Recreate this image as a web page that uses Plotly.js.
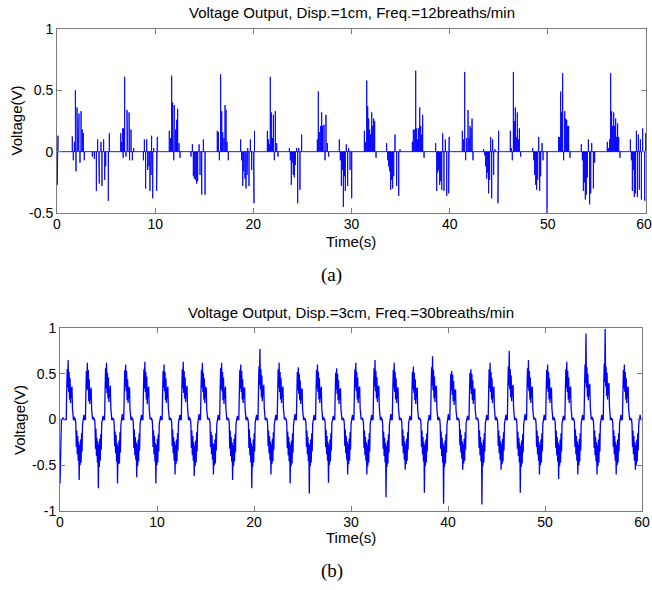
<!DOCTYPE html>
<html><head><meta charset="utf-8">
<script src="https://cdn.plot.ly/plotly-3.0.1.min.js"></script>
<style>html,body{margin:0;padding:0;background:#fff}#chart{width:652px;height:590px}</style>
</head><body><div id="chart"></div>
<script>
const titleA = "Voltage Output, Disp.=1cm, Freq.=12breaths/min";
const titleB = "Voltage Output, Disp.=3cm, Freq.=30breaths/min";
const xLabel = "Time(s)";
const yLabel = "Voltage(V)";
const panelA = "(a)";
const panelB = "(b)";
const xTickVals = [0,10,20,30,40,50,60];
const xTickTextA = ["0","10","20","30","40","50","60\u00a0"];
const xTickTextB = ["0","10","20","30","40","50","60"];
const yTickValsA = [-0.5,0,0.5,1];
const yTickTextA = ["-0.5","0","0.5","1"];
const yTickValsB = [-1,-0.5,0,0.5,1];
const yTickTextB = ["-1","-0.5","0","0.5","1"];

// (a) spike samples: time (s) and voltage (V)
const spikeTimeA = [
0,0.03,0.10,
1.56,1.66,1.77,1.87,1.94,2.04,2.11,2.17,2.24,2.34,2.45,2.58,2.68,2.78,
3.60,3.80,4.01,4.14,4.25,4.31,4.48,4.58,4.75,4.86,4.96,5.23,5.33,
6.49,6.59,6.69,6.74,6.79,6.89,7.03,7.13,7.20,7.34,7.40,7.54,7.68,7.81,
8.80,8.90,9.03,9.14,9.24,9.37,9.47,9.58,9.64,9.75,9.85,10.15,10.22,
11.44,11.58,11.68,11.78,11.89,11.95,12.09,12.19,12.29,12.43,12.53,
13.65,13.79,13.89,13.99,14.13,14.23,14.33,14.47,14.57,14.74,14.91,15.08,
16.33,16.44,16.54,16.67,16.78,16.88,17.01,17.12,17.22,17.32,17.45,
18.71,18.81,18.92,19.02,19.15,19.25,19.36,19.43,19.56,19.70,19.83,20.00,20.07,20.12,
21.43,21.53,21.63,21.73,21.83,21.94,22.04,22.14,22.24,22.38,22.51,
23.67,23.77,23.87,23.97,24.07,24.18,24.28,24.41,24.52,24.62,24.75,24.92,
26.52,26.62,26.72,26.86,26.96,27.06,27.20,27.30,27.40,27.54,27.67,
28.76,28.86,28.97,29.07,29.17,29.27,29.37,29.47,29.61,29.71,29.85,30.02,
31.31,31.44,31.55,31.65,31.75,31.85,31.95,32.06,32.16,32.26,32.36,32.50,
33.58,33.69,33.79,33.89,33.99,34.09,34.19,34.30,34.43,34.60,34.81,34.94,
36.20,36.30,36.44,36.54,36.64,36.74,36.84,36.95,37.05,37.15,37.25,37.39,
38.57,38.68,38.78,38.88,38.98,39.08,39.19,39.29,39.42,39.56,39.70,39.90,39.95,
41.29,41.43,41.53,41.63,41.73,41.87,41.97,42.07,42.17,42.28,42.38,
43.46,43.57,43.67,43.77,43.87,43.97,44.07,44.18,44.28,44.38,44.48,44.62,44.92,44.99,
46.18,46.28,46.38,46.49,46.59,46.69,46.79,46.89,47.00,47.10,47.23,
48.46,48.56,48.66,48.76,48.86,48.97,49.07,49.17,49.27,49.41,49.51,49.92,
51.10,51.21,51.31,51.41,51.51,51.61,51.72,51.82,51.92,52.02,52.12,52.26,
53.41,53.52,53.62,53.72,53.82,53.92,54.03,54.13,54.26,54.37,54.47,54.64,54.77,
56.06,56.16,56.30,56.40,56.50,56.61,56.71,56.81,56.91,57.01,57.11,57.22,57.35,
58.41,58.51,58.61,58.71,58.81,58.92,59.02,59.12,59.22,59.32,59.43,59.53,59.66,59.87,59.96,
60
];
const spikeVoltA = [
0,-0.27,0.13,
0.125,-0.07,0.08,0.50,-0.16,0.36,0.20,0.27,0.31,-0.09,0.33,0.18,0.15,-0.07,
-0.04,-0.06,-0.32,0.10,-0.17,-0.26,0.08,-0.28,0.10,-0.23,-0.12,-0.40,0.15,
0.15,0.08,0.19,-0.05,0.19,0.61,-0.04,0.34,0.19,0.32,-0.07,0.18,-0.07,0.03,
-0.07,0.10,-0.30,0.10,-0.15,-0.12,-0.32,-0.19,0.13,-0.38,0.03,-0.32,0.12,
0.17,0.11,0.62,0.40,-0.07,0.38,0.18,0.26,0.35,0.07,-0.05,
-0.04,0.06,-0.20,-0.22,-0.23,-0.26,-0.24,0.06,-0.19,-0.35,0.10,-0.35,
0.17,0.16,-0.07,0.63,0.33,0.16,0.11,0.38,0.34,0.08,-0.07,
0.10,-0.07,-0.28,-0.16,-0.22,-0.30,-0.19,0.03,-0.28,0.10,-0.15,-0.35,-0.42,0.17,
0.17,0.10,0.06,0.61,0.32,0.11,0.30,-0.07,0.33,0.07,-0.04,
0.03,-0.07,-0.27,-0.09,-0.19,-0.21,-0.11,0.03,-0.42,0.03,-0.31,0.14,
0.10,0.49,0.16,0.21,0.32,0.21,0.22,-0.07,0.30,0.07,-0.04,
0.10,-0.07,-0.28,-0.15,-0.45,-0.20,-0.32,0.06,-0.28,0.03,-0.15,-0.38,
0.17,0.08,0.58,0.37,0.27,0.18,0.14,0.32,0.21,0.27,0.25,-0.05,
0.07,-0.07,-0.12,-0.16,-0.31,-0.23,-0.30,-0.20,0.14,-0.28,-0.36,0.02,
0.08,0.18,0.18,0.66,0.19,0.10,0.19,0.36,0.21,0.14,0.30,-0.05,
0.07,-0.32,-0.17,-0.15,-0.27,-0.24,-0.31,0.15,-0.32,0.10,-0.36,-0.34,0.12,
0.17,0.10,0.65,-0.07,0.11,0.34,0.11,0.21,0.19,0.27,-0.07,
0.02,-0.03,-0.12,-0.22,-0.17,-0.34,-0.23,0.12,-0.38,0.10,-0.19,0.02,-0.42,0.17,
0.17,0.03,-0.07,0.65,0.25,0.36,0.12,0.32,0.10,0.19,-0.04,
0.03,-0.07,-0.19,-0.27,-0.31,-0.23,0.12,-0.32,-0.20,0.07,-0.07,-0.52,
0.12,0.12,0.49,0.32,0.64,-0.07,0.33,0.27,0.26,0.21,0.21,-0.05,
0.06,-0.07,-0.32,-0.25,-0.39,-0.35,-0.21,0.10,-0.43,-0.34,0.07,-0.30,-0.09,
0.08,0.03,0.10,0.64,0.33,0.21,0.32,0.21,0.27,0.12,0.23,0.12,-0.05,
0.10,-0.07,-0.32,-0.15,-0.37,-0.34,0.17,-0.37,0.14,-0.31,0.10,-0.39,0.19,-0.40,0.15,
0
];

// (b) uniformly sampled signal, starting at t = 0 s (one row per breath)
const sampleStepB = 0.04943;
const voltageB = [
-0.70,-0.40,-0.15,0.00,0.00,0.00,0.02,0.00,0.00,0.00,0.00,0.00,0.00,0.00,
0.30,0.55,0.35,0.65,0.30,0.52,0.22,0.45,0.18,0.35,0.24,0.36,0.12,0.03,0.00,0.00,0.03,0.00,0.00,-0.05,-0.30,-0.12,-0.38,-0.18,-0.45,-0.25,-0.66,-0.28,-0.50,-0.22,-0.47,-0.15,-0.35,-0.05,0.00,0.00,0.05,0.00,0.00,0.00,
0.28,0.53,0.33,0.62,0.32,0.54,0.20,0.44,0.17,0.33,0.22,0.35,0.11,0.02,0.00,0.01,0.03,0.00,0.00,-0.04,-0.32,-0.10,-0.40,-0.20,-0.47,-0.24,-0.75,-0.27,-0.52,-0.21,-0.45,-0.16,-0.33,-0.04,0.00,0.00,0.04,0.00,0.00,0.00,
0.31,0.56,0.34,0.62,0.29,0.51,0.23,0.46,0.19,0.34,0.25,0.37,0.13,0.03,0.00,0.00,0.02,0.00,0.01,-0.06,-0.29,-0.13,-0.37,-0.17,-0.46,-0.26,-0.70,-0.29,-0.49,-0.23,-0.48,-0.14,-0.36,-0.06,0.00,0.00,0.06,0.00,0.00,0.00,
0.29,0.54,0.36,0.60,0.31,0.53,0.21,0.44,0.18,0.36,0.23,0.35,0.11,0.02,0.00,0.00,0.03,0.00,0.00,-0.05,-0.31,-0.11,-0.39,-0.19,-0.44,-0.25,-0.63,-0.27,-0.51,-0.22,-0.46,-0.15,-0.34,-0.05,0.00,0.00,0.05,0.00,0.00,0.00,
0.30,0.55,0.34,0.63,0.30,0.52,0.22,0.47,0.17,0.35,0.24,0.36,0.12,0.02,0.00,0.01,0.02,0.00,0.00,-0.05,-0.30,-0.12,-0.38,-0.18,-0.46,-0.26,-0.70,-0.28,-0.50,-0.21,-0.47,-0.16,-0.35,-0.05,0.00,0.00,0.04,0.00,0.00,0.00,
0.28,0.53,0.35,0.60,0.31,0.52,0.21,0.45,0.18,0.34,0.23,0.36,0.12,0.02,0.00,0.00,0.02,0.00,0.00,-0.04,-0.29,-0.11,-0.37,-0.19,-0.45,-0.24,-0.60,-0.28,-0.49,-0.22,-0.46,-0.15,-0.34,-0.04,0.00,0.00,0.05,0.00,0.00,0.00,
0.31,0.55,0.34,0.63,0.29,0.53,0.23,0.46,0.19,0.35,0.25,0.37,0.13,0.03,0.00,0.00,0.03,0.00,0.00,-0.06,-0.31,-0.12,-0.39,-0.18,-0.45,-0.25,-0.62,-0.29,-0.51,-0.23,-0.47,-0.14,-0.35,-0.06,0.00,0.00,0.06,0.00,0.00,0.00,
0.29,0.54,0.35,0.62,0.30,0.51,0.22,0.45,0.18,0.36,0.24,0.35,0.11,0.02,0.00,0.01,0.02,0.00,0.00,-0.05,-0.30,-0.13,-0.38,-0.17,-0.44,-0.26,-0.60,-0.27,-0.50,-0.22,-0.48,-0.15,-0.34,-0.05,0.00,0.00,0.05,0.00,0.00,0.00,
0.30,0.56,0.33,0.62,0.31,0.52,0.21,0.46,0.17,0.34,0.23,0.36,0.12,0.02,0.00,0.00,0.02,0.00,0.00,-0.05,-0.32,-0.12,-0.40,-0.19,-0.46,-0.25,-0.66,-0.28,-0.51,-0.21,-0.46,-0.16,-0.36,-0.05,0.00,0.00,0.04,0.00,0.00,0.00,
0.28,0.54,0.34,0.60,0.30,0.53,0.22,0.44,0.18,0.35,0.24,0.35,0.12,0.02,0.00,0.00,0.03,0.00,0.00,-0.04,-0.31,-0.11,-0.39,-0.20,-0.47,-0.26,-0.75,-0.29,-0.52,-0.22,-0.47,-0.15,-0.35,-0.04,0.00,0.00,0.05,0.00,0.00,0.00,
0.33,0.58,0.38,0.77,0.33,0.55,0.24,0.48,0.20,0.37,0.26,0.38,0.13,0.03,0.00,0.00,0.02,0.00,0.00,-0.05,-0.29,-0.12,-0.37,-0.18,-0.44,-0.24,-0.60,-0.27,-0.49,-0.21,-0.46,-0.14,-0.33,-0.05,0.00,0.00,0.05,0.00,0.00,0.00,
0.29,0.55,0.35,0.62,0.30,0.52,0.22,0.45,0.18,0.35,0.24,0.36,0.12,0.02,0.00,0.01,0.02,0.00,0.00,-0.06,-0.31,-0.13,-0.39,-0.19,-0.46,-0.25,-0.70,-0.28,-0.51,-0.23,-0.48,-0.15,-0.36,-0.06,0.00,0.00,0.06,0.00,0.00,0.00,
0.27,0.52,0.32,0.57,0.28,0.50,0.21,0.43,0.17,0.33,0.22,0.34,0.11,0.02,0.00,0.00,0.02,0.00,0.00,-0.05,-0.30,-0.12,-0.38,-0.19,-0.46,-0.26,-0.81,-0.28,-0.51,-0.22,-0.47,-0.15,-0.35,-0.05,0.00,0.00,0.05,0.00,0.00,0.00,
0.29,0.54,0.34,0.60,0.30,0.52,0.22,0.45,0.18,0.34,0.23,0.36,0.12,0.02,0.00,0.00,0.03,0.00,0.00,-0.04,-0.30,-0.11,-0.38,-0.18,-0.45,-0.25,-0.69,-0.28,-0.50,-0.22,-0.46,-0.15,-0.34,-0.04,0.00,0.00,0.04,0.00,0.00,0.00,
0.27,0.51,0.33,0.56,0.28,0.50,0.21,0.43,0.17,0.33,0.22,0.34,0.11,0.02,0.00,0.00,0.02,0.00,0.00,-0.05,-0.29,-0.11,-0.37,-0.18,-0.44,-0.24,-0.60,-0.27,-0.49,-0.21,-0.45,-0.14,-0.33,-0.05,0.00,0.00,0.05,0.00,0.00,0.00,
0.30,0.55,0.35,0.62,0.31,0.52,0.22,0.46,0.18,0.35,0.24,0.36,0.12,0.02,0.00,0.01,0.02,0.00,0.00,-0.05,-0.31,-0.12,-0.39,-0.19,-0.45,-0.25,-0.60,-0.28,-0.51,-0.22,-0.47,-0.15,-0.35,-0.05,0.00,0.00,0.05,0.00,0.00,0.00,
0.31,0.56,0.36,0.65,0.31,0.53,0.23,0.46,0.19,0.36,0.25,0.37,0.13,0.03,0.00,0.00,0.03,0.00,0.00,-0.06,-0.32,-0.13,-0.40,-0.20,-0.47,-0.26,-0.85,-0.29,-0.52,-0.23,-0.48,-0.16,-0.36,-0.06,0.00,0.00,0.06,0.00,0.00,0.00,
0.29,0.54,0.34,0.62,0.30,0.52,0.22,0.45,0.18,0.35,0.23,0.35,0.12,0.02,0.00,0.00,0.02,0.00,0.00,-0.04,-0.29,-0.11,-0.37,-0.18,-0.44,-0.24,-0.55,-0.27,-0.49,-0.21,-0.45,-0.14,-0.33,-0.04,0.00,0.00,0.04,0.00,0.00,0.00,
0.28,0.52,0.33,0.58,0.29,0.51,0.21,0.44,0.17,0.34,0.23,0.35,0.11,0.02,0.00,0.01,0.02,0.00,0.00,-0.05,-0.30,-0.12,-0.38,-0.19,-0.46,-0.25,-0.80,-0.28,-0.51,-0.22,-0.47,-0.15,-0.35,-0.05,0.00,0.00,0.05,0.00,0.00,0.00,
0.32,0.57,0.37,0.69,0.32,0.54,0.23,0.47,0.19,0.36,0.25,0.37,0.13,0.03,0.00,0.00,0.03,0.00,0.00,-0.06,-0.32,-0.13,-0.40,-0.20,-0.47,-0.26,-0.92,-0.29,-0.52,-0.23,-0.48,-0.16,-0.36,-0.06,0.00,0.00,0.06,0.00,0.00,0.00,
0.26,0.50,0.32,0.53,0.27,0.49,0.20,0.42,0.16,0.32,0.21,0.33,0.10,0.02,0.00,0.00,0.02,0.00,0.00,-0.04,-0.28,-0.11,-0.36,-0.17,-0.43,-0.24,-0.55,-0.27,-0.48,-0.21,-0.45,-0.14,-0.33,-0.04,0.00,0.00,0.04,0.00,0.00,0.00,
0.27,0.51,0.33,0.55,0.28,0.50,0.21,0.43,0.17,0.33,0.22,0.34,0.11,0.02,0.00,0.01,0.02,0.00,0.00,-0.05,-0.31,-0.12,-0.39,-0.19,-0.46,-0.25,-0.93,-0.28,-0.51,-0.22,-0.47,-0.15,-0.35,-0.05,0.00,0.00,0.05,0.00,0.00,0.00,
0.30,0.55,0.34,0.62,0.30,0.52,0.22,0.45,0.18,0.35,0.24,0.36,0.12,0.02,0.00,0.00,0.03,0.00,0.00,-0.05,-0.29,-0.12,-0.37,-0.18,-0.44,-0.24,-0.55,-0.27,-0.49,-0.21,-0.46,-0.14,-0.34,-0.05,0.00,0.00,0.05,0.00,0.00,0.00,
0.33,0.58,0.37,0.75,0.33,0.55,0.24,0.48,0.20,0.37,0.26,0.38,0.13,0.03,0.00,0.00,0.02,0.00,0.00,-0.06,-0.32,-0.13,-0.40,-0.20,-0.47,-0.26,-0.80,-0.29,-0.52,-0.23,-0.48,-0.16,-0.36,-0.06,0.00,0.00,0.06,0.00,0.00,0.00,
0.31,0.56,0.35,0.65,0.31,0.53,0.22,0.46,0.18,0.35,0.24,0.36,0.12,0.02,0.00,0.01,0.02,0.00,0.00,-0.05,-0.30,-0.12,-0.38,-0.18,-0.45,-0.25,-0.60,-0.28,-0.50,-0.22,-0.47,-0.15,-0.35,-0.05,0.00,0.00,0.05,0.00,0.00,0.00,
0.29,0.54,0.34,0.60,0.30,0.52,0.22,0.45,0.18,0.34,0.23,0.35,0.12,0.02,0.00,0.00,0.03,0.00,0.00,-0.05,-0.31,-0.12,-0.39,-0.19,-0.46,-0.25,-0.65,-0.28,-0.51,-0.22,-0.47,-0.15,-0.35,-0.05,0.00,0.00,0.04,0.00,0.00,0.00,
0.30,0.55,0.35,0.63,0.30,0.53,0.22,0.46,0.18,0.35,0.24,0.36,0.12,0.02,0.00,0.00,0.02,0.00,0.00,-0.04,-0.30,-0.11,-0.38,-0.18,-0.45,-0.24,-0.60,-0.27,-0.50,-0.21,-0.46,-0.15,-0.34,-0.04,0.00,0.00,0.05,0.00,0.00,0.00,
0.34,0.60,0.40,0.94,0.35,0.57,0.25,0.50,0.21,0.38,0.27,0.39,0.14,0.03,0.00,0.01,0.03,0.00,0.00,-0.05,-0.31,-0.12,-0.39,-0.19,-0.46,-0.25,-0.60,-0.28,-0.51,-0.22,-0.47,-0.15,-0.35,-0.05,0.00,0.00,0.05,0.00,0.00,0.00,
0.35,0.61,0.41,0.99,0.36,0.58,0.26,0.51,0.22,0.39,0.27,0.40,0.14,0.03,0.00,0.00,0.02,0.00,0.00,-0.05,-0.30,-0.12,-0.38,-0.18,-0.45,-0.25,-0.60,-0.28,-0.50,-0.22,-0.47,-0.15,-0.35,-0.05,0.00,0.00,0.05,0.00,0.00,0.00,
0.29,0.54,0.34,0.60,0.30,0.52,0.22,0.45,0.18,0.35,0.24,0.36,0.12,0.02,0.00,0.00,0.02,0.00,0.00,-0.05,-0.30,-0.12,-0.38,-0.18,-0.45,-0.25,-0.55,-0.28,-0.50,-0.22,-0.46,-0.15,-0.34,-0.05,0.00,0.00,0.05,0.00,0.00,0.00
];

// each spike of (a) rises from and returns to the 0 V baseline
const xA = [], yA = [];
spikeTimeA.forEach((t, i) => { xA.push(t, t, t); yA.push(0, spikeVoltA[i], 0); });

const W = 652, H = 590;
const px = v => v / W, py = v => 1 - v / H;
const FONT = "Liberation Sans, Arial, Helvetica, sans-serif";
const SERIF = "Liberation Serif, Times New Roman, serif";
const AX = '#7a7a7a';

function axis(extra) {
  return Object.assign({
    showline: true, linecolor: AX, linewidth: 1, mirror: 'ticks',
    ticks: 'inside', ticklen: 5, tickcolor: AX, tickwidth: 1,
    showgrid: false, zeroline: false, fixedrange: true,
    ticklabeloverflow: 'allow',
    tickfont: {family: FONT, size: 14, color: '#000'}
  }, extra);
}

const data = [
  {x: xA, y: yA, type: 'scatter', mode: 'lines', xaxis: 'x', yaxis: 'y',
   line: {color: '#0000ff', width: 0.9}, hoverinfo: 'skip'},
  {y: voltageB, x0: 0, dx: sampleStepB, type: 'scatter', mode: 'lines', xaxis: 'x2', yaxis: 'y2',
   line: {color: '#0000ff', width: 1.3}, hoverinfo: 'skip'}
];

const layout = {
  width: W, height: H, showlegend: false,
  paper_bgcolor: '#fff', plot_bgcolor: '#fff',
  margin: {l: 0, r: 0, t: 0, b: 0},
  xaxis: axis({domain: [px(57), px(646)], range: [0, 60], tickvals: xTickVals, ticktext: xTickTextA, anchor: 'y', ticklabelstandoff: -2}),
  yaxis: axis({domain: [py(213), py(29)], range: [-0.5, 1], tickvals: yTickValsA, ticktext: yTickTextA, anchor: 'x'}),
  xaxis2: axis({domain: [px(60), px(642)], range: [0, 60], tickvals: xTickVals, ticktext: xTickTextB, anchor: 'y2', ticklabelstandoff: -2}),
  yaxis2: axis({domain: [py(511), py(328)], range: [-1, 1], tickvals: yTickValsB, ticktext: yTickTextB, anchor: 'x2'}),
  annotations: [
    {text: titleA, xref: 'paper', yref: 'paper', x: px(351.5), y: py(12.5), xanchor: 'center', yanchor: 'middle', showarrow: false, font: {family: FONT, size: 15, color: '#000'}},
    {text: titleB, xref: 'paper', yref: 'paper', x: px(351), y: py(312.5), xanchor: 'center', yanchor: 'middle', showarrow: false, font: {family: FONT, size: 15, color: '#000'}},
    {text: yLabel, xref: 'paper', yref: 'paper', x: px(16.5), y: py(121), xanchor: 'center', yanchor: 'middle', textangle: -90, showarrow: false, font: {family: FONT, size: 15, color: '#000'}},
    {text: yLabel, xref: 'paper', yref: 'paper', x: px(19), y: py(420), xanchor: 'center', yanchor: 'middle', textangle: -90, showarrow: false, font: {family: FONT, size: 15, color: '#000'}},
    {text: xLabel, xref: 'paper', yref: 'paper', x: px(351), y: py(241), xanchor: 'center', yanchor: 'middle', showarrow: false, font: {family: FONT, size: 15, color: '#000'}},
    {text: xLabel, xref: 'paper', yref: 'paper', x: px(351), y: py(537.5), xanchor: 'center', yanchor: 'middle', showarrow: false, font: {family: FONT, size: 15, color: '#000'}},
    {text: panelA, xref: 'paper', yref: 'paper', x: px(331.5), y: py(275), xanchor: 'center', yanchor: 'middle', showarrow: false, font: {family: SERIF, size: 19, color: '#000'}},
    {text: panelB, xref: 'paper', yref: 'paper', x: px(331.5), y: py(571), xanchor: 'center', yanchor: 'middle', showarrow: false, font: {family: SERIF, size: 19, color: '#000'}}
  ]
};

Plotly.newPlot('chart', data, layout, {staticPlot: true, displayModeBar: false});
</script>
</body></html>
